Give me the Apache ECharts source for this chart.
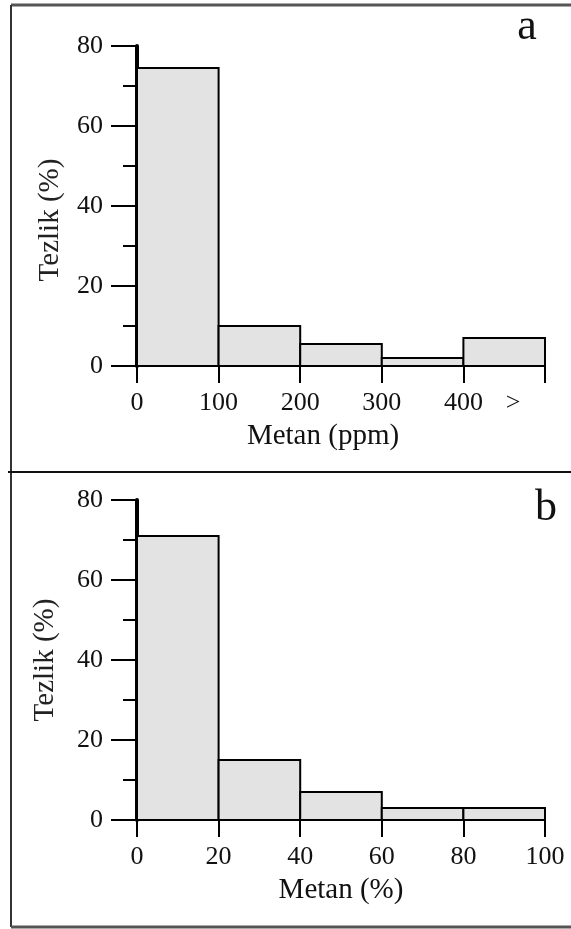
<!DOCTYPE html>
<html>
<head>
<meta charset="utf-8">
<script src="https://cdn.jsdelivr.net/npm/echarts@6/dist/echarts.min.js"></script>
<style>
html,body{margin:0;padding:0;background:#fff;}
#chart{width:571px;height:929px;}
</style>
</head>
<body>
<div id="chart"></div>
<script>
// Panel a: methane (ppm) histogram
const binEdgesA = [0, 100, 200, 300, 400, 500];
const tickLabelsA = ['0', '100', '200', '300', '400', '>'];
const freqA = [74.5, 10, 5.5, 2, 7];
// Panel b: methane (%) histogram
const binEdgesB = [0, 20, 40, 60, 80, 100];
const tickLabelsB = ['0', '20', '40', '60', '80', '100'];
const freqB = [71, 15, 7, 3, 3];
// Shared y axis
const yTickValues = [0, 20, 40, 60, 80];
const panelLetters = ['a', 'b'];
const xNames = ['Metan (ppm)', 'Metan (%)'];
const yName = 'Tezlik (%)';

const FONT = '"Liberation Serif", "Times New Roman", serif';
const TXT = '#111';

function binsData(edges, vals) {
  return vals.map((v, i) => [edges[i], edges[i + 1], v]);
}

function renderItem(params, api) {
  const x0 = api.value(0), x1 = api.value(1), v = api.value(2);
  const p0 = api.coord([x0, v]);
  const p1 = api.coord([x1, 0]);
  return {
    type: 'rect',
    shape: { x: p0[0], y: p0[1], width: p1[0] - p0[0], height: p1[1] - p0[1] },
    style: { fill: '#e3e3e3', stroke: '#000', lineWidth: 2 }
  };
}

function xAxis(gridIndex, edges, labels, name, namePad) {
  return {
    type: 'value', gridIndex: gridIndex,
    min: edges[0], max: edges[edges.length - 1],
    interval: edges[1] - edges[0],
    name: name, nameLocation: 'middle', nameGap: 56,
    nameTextStyle: { fontFamily: FONT, fontSize: 29, color: TXT, padding: namePad },
    axisLine: { show: true, lineStyle: { color: '#000', width: 2 } },
    axisTick: { show: true, length: 17, lineStyle: { color: '#000', width: 2 } },
    splitLine: { show: false },
    axisLabel: {
      margin: 24, fontFamily: FONT, fontSize: 26, color: TXT,
      showMinLabel: true, showMaxLabel: true,
      formatter: function (val) {
        const idx = edges.indexOf(val);
        if (idx < 0) return '';
        const t = labels[idx];
        if (t === '>') return '{gt|>}';
        return t;
      },
      rich: { gt: { fontFamily: FONT, fontSize: 26, color: TXT, padding: [0, 64, 0, 0] } }
    }
  };
}

function yAxis(gridIndex, namePad, nameGap) {
  return {
    type: 'value', gridIndex: gridIndex,
    min: yTickValues[0], max: yTickValues[yTickValues.length - 1],
    interval: yTickValues[1] - yTickValues[0],
    name: yName, nameLocation: 'middle', nameGap: nameGap,
    nameTextStyle: { fontFamily: FONT, fontSize: 29, color: '#222', padding: namePad },
    axisLine: { show: true, lineStyle: { color: '#000', width: 4 } },
    axisTick: { show: true, length: 26, lineStyle: { color: '#000', width: 2 } },
    minorTick: { show: true, splitNumber: 2, length: 14, lineStyle: { color: '#000', width: 2 } },
    splitLine: { show: false },
    minorSplitLine: { show: false },
    axisLabel: { margin: 34, fontFamily: FONT, fontSize: 26, color: TXT }
  };
}

const chart = echarts.init(document.getElementById('chart'), null, { renderer: 'canvas' });
chart.setOption({
  backgroundColor: '#fff',
  animation: false,
  grid: [
    { left: 137, top: 46, width: 408, height: 320 },
    { left: 137, top: 500, width: 408, height: 320 }
  ],
  xAxis: [
    xAxis(0, binEdgesA, tickLabelsA, xNames[0], [0, 36, 0, 0]),
    xAxis(1, binEdgesB, tickLabelsB, xNames[1], [0, 0, 0, 0])
  ],
  yAxis: [
    yAxis(0, [0, 28, 0, 0], 72),
    yAxis(1, [0, 0, 0, 0], 77)
  ],
  series: [
    { type: 'custom', xAxisIndex: 0, yAxisIndex: 0, renderItem: renderItem,
      encode: { x: [0, 1], y: 2 }, data: binsData(binEdgesA, freqA), z: 1 },
    { type: 'custom', xAxisIndex: 1, yAxisIndex: 1, renderItem: renderItem,
      encode: { x: [0, 1], y: 2 }, data: binsData(binEdgesB, freqB), z: 1 }
  ],
  graphic: [
    { type: 'line', shape: { x1: 11, y1: 5, x2: 580, y2: 5 }, style: { stroke: '#555', lineWidth: 3 } },
    { type: 'line', shape: { x1: 11, y1: 5, x2: 11, y2: 927 }, style: { stroke: '#333', lineWidth: 2 } },
    { type: 'line', shape: { x1: 8, y1: 472, x2: 580, y2: 472 }, style: { stroke: '#111', lineWidth: 2 } },
    { type: 'line', shape: { x1: 11, y1: 927, x2: 580, y2: 927 }, style: { stroke: '#555', lineWidth: 3 } },
    { type: 'text', style: { text: panelLetters[0], x: 527, y: 27, textAlign: 'center', textVerticalAlign: 'middle',
      font: '44px ' + FONT, fill: TXT } },
    { type: 'text', style: { text: panelLetters[1], x: 546, y: 508, textAlign: 'center', textVerticalAlign: 'middle',
      font: '44px ' + FONT, fill: TXT } }
  ]
});
</script>
</body>
</html>
